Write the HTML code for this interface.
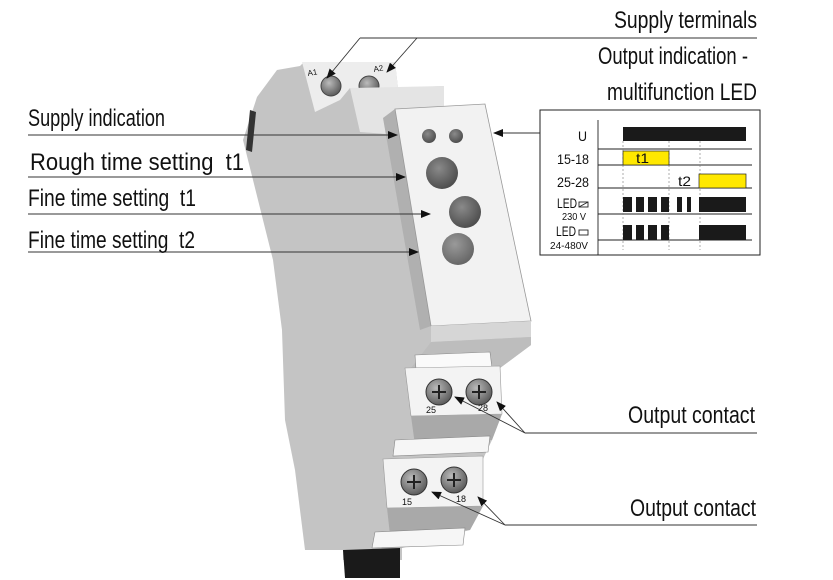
<!DOCTYPE html>
<html><head><meta charset="utf-8"><style>
html,body{margin:0;padding:0;background:#fff;width:833px;height:580px;overflow:hidden}
svg{display:block}
text{font-family:"Liberation Sans",sans-serif;fill:#111;white-space:pre}
</style></head><body>
<svg width="833" height="580" viewBox="0 0 833 580" xmlns="http://www.w3.org/2000/svg" xml:space="preserve">
<defs>
<marker id="ah" markerWidth="10" markerHeight="8" refX="9" refY="4" orient="auto" markerUnits="userSpaceOnUse">
<path d="M0,0 L10,4 L0,8 z" fill="#111"/></marker>
<radialGradient id="knob" cx="40%" cy="35%" r="70%"><stop offset="0" stop-color="#8a8a8a"/><stop offset="1" stop-color="#4a4a4a"/></radialGradient>
<radialGradient id="scr" cx="40%" cy="35%" r="70%"><stop offset="0" stop-color="#bbb"/><stop offset="1" stop-color="#555"/></radialGradient>
</defs>

<path d="M277,70 L300,66 L304,62 L395,62 L398,88 L444,86 L444,110 L395,109 L431,326 L531,337 L531,345 L500,368 L502,414 L492,440 L483,459 L483,506 L470,530 L402,548 L402,560 L343,560 L343,550 L305,550 L295,470 L285,420 L282,330 L273,260 L243,140 L257,97 Z" fill="#c4c4c4"/>
<path d="M250,110 L246,150 L252,152 L256,112 Z" fill="#333"/>
<path d="M302,62 L395,62 L398,88 L350,88 L340,100 L315,112 Z" fill="#ededed"/>
<circle cx="331" cy="86" r="10" fill="url(#scr)" stroke="#444"/>
<circle cx="369" cy="86" r="10" fill="url(#scr)" stroke="#444"/>
<text x="308" y="76" font-size="8" transform="rotate(-10 308 76)">A1</text>
<text x="374" y="72" font-size="8" transform="rotate(-10 374 72)">A2</text>
<path d="M350,88 L444,86 L444,110 L395,109 L400,135 L360,132 Z" fill="#e4e4e4"/>
<path d="M383,118 L395,109 L431,326 L420,330 Z" fill="#b0b0b0"/>
<path d="M395,109 L485,104 L531,321 L431,326 Z" fill="#f2f2f2" stroke="#999" stroke-width="0.8"/>
<path d="M431,326 L531,321 L531,337 L431,342 Z" fill="#d6d6d6"/>
<path d="M431,342 L531,337 L531,345 L500,368 L411,368 Z" fill="#bdbdbd"/>
<circle cx="429" cy="136" r="7" fill="url(#knob)"/>
<circle cx="456" cy="136" r="7" fill="url(#knob)"/>
<circle cx="442" cy="173" r="16" fill="url(#knob)"/>
<circle cx="465" cy="212" r="16" fill="url(#knob)"/>
<circle cx="458" cy="249" r="16" fill="url(#knob)" opacity="0.85"/>
<path d="M415,355 L490,352 L492,368 L416,370 Z" fill="#fafafa" stroke="#888" stroke-width="0.6"/>
<path d="M405,368 L500,366 L502,414 L411,416 Z" fill="#f3f3f3" stroke="#999" stroke-width="0.6"/>
<circle cx="439" cy="392" r="13" fill="url(#scr)" stroke="#333"/>
<circle cx="479" cy="392" r="13" fill="url(#scr)" stroke="#333"/>
<path d="M432,392h14M439,385v14M472,392h14M479,385v14" stroke="#222" stroke-width="2"/>
<text x="426" y="413" font-size="9">25</text>
<text x="478" y="411" font-size="9">28</text>
<path d="M411,416 L502,414 L492,440 L415,445 Z" fill="#a9a9a9"/>
<path d="M395,440 L490,436 L488,452 L393,456 Z" fill="#f6f6f6" stroke="#888" stroke-width="0.6"/>
<path d="M383,459 L483,456 L483,506 L387,508 Z" fill="#f3f3f3" stroke="#999" stroke-width="0.6"/>
<circle cx="414" cy="482" r="13" fill="url(#scr)" stroke="#333"/>
<circle cx="454" cy="480" r="13" fill="url(#scr)" stroke="#333"/>
<path d="M407,482h14M414,475v14M447,480h14M454,473v14" stroke="#222" stroke-width="2"/>
<text x="402" y="505" font-size="9">15</text>
<text x="456" y="502" font-size="9">18</text>
<path d="M387,508 L483,506 L470,530 L390,535 Z" fill="#a9a9a9"/>
<path d="M375,532 L465,528 L463,545 L372,548 Z" fill="#f6f6f6" stroke="#888" stroke-width="0.6"/>
<path d="M343,550 L400,548 L400,578 L345,578 Z" fill="#1a1a1a"/>

<g stroke="#333" stroke-width="0.9" fill="none">
<path d="M360,38 H757"/>
<path d="M360,38 L327,78" marker-end="url(#ah)"/>
<path d="M417,38 L387,72" marker-end="url(#ah)"/>
<path d="M28,135 H397" marker-end="url(#ah)"/>
<path d="M28,177 H405" marker-end="url(#ah)"/>
<path d="M28,214 H430" marker-end="url(#ah)"/>
<path d="M28,252 H418" marker-end="url(#ah)"/>
<path d="M540,133 H494" marker-end="url(#ah)"/>
<path d="M525,433 H757"/>
<path d="M525,433 L497,402" marker-end="url(#ah)"/>
<path d="M525,433 L455,397" marker-end="url(#ah)"/>
<path d="M505,525 H757"/>
<path d="M505,525 L478,497" marker-end="url(#ah)"/>
<path d="M505,525 L432,492" marker-end="url(#ah)"/>
</g>

<g font-size="24">
<text x="614" y="28" textLength="143" lengthAdjust="spacingAndGlyphs">Supply terminals</text>
<text x="598" y="64" textLength="150" lengthAdjust="spacingAndGlyphs">Output indication -</text>
<text x="607" y="100" textLength="150" lengthAdjust="spacingAndGlyphs">multifunction LED</text>
<text x="28" y="126" textLength="137" lengthAdjust="spacingAndGlyphs">Supply indication</text>
<text x="30" y="170" textLength="214" lengthAdjust="spacingAndGlyphs">Rough time setting&#160;&#160;t1</text>
<text x="28" y="206" textLength="168" lengthAdjust="spacingAndGlyphs">Fine time setting&#160;&#160;t1</text>
<text x="28" y="248" textLength="167" lengthAdjust="spacingAndGlyphs">Fine time setting&#160;&#160;t2</text>
<text x="628" y="423" textLength="127" lengthAdjust="spacingAndGlyphs">Output contact</text>
<text x="630" y="516" textLength="126" lengthAdjust="spacingAndGlyphs">Output contact</text>
</g>

<rect x="540" y="110" width="220" height="145" fill="#fff" stroke="#222" stroke-width="1"/>
<g stroke="#222" stroke-width="0.9">
<path d="M598,120 V255"/>
<path d="M598,149 H752 M598,165 H752 M598,188 H752 M598,214 H752 M598,240 H752"/>
</g>
<g stroke="#777" stroke-width="0.6" stroke-dasharray="2,2">
<path d="M623,141 V250 M669,141 V250 M700,141 V250"/>
</g>
<rect x="623" y="127" width="123" height="14" fill="#1a1a1a"/>
<rect x="623" y="151" width="46" height="14" fill="#ffe800" stroke="#222" stroke-width="0.7"/>
<rect x="699" y="174" width="47" height="14" fill="#ffe800" stroke="#222" stroke-width="0.7"/>
<g fill="#1a1a1a">
<rect x="623" y="197" width="9" height="15"/><rect x="636" y="197" width="8" height="15"/><rect x="648" y="197" width="9" height="15"/><rect x="661" y="197" width="8" height="15"/>
<rect x="677" y="197" width="5" height="15"/><rect x="687" y="197" width="4" height="15"/><rect x="699" y="197" width="47" height="15"/>
<rect x="623" y="225" width="9" height="15"/><rect x="636" y="225" width="8" height="15"/><rect x="648" y="225" width="9" height="15"/><rect x="661" y="225" width="8" height="15"/>
<rect x="699" y="225" width="47" height="15"/>
</g>
<g font-size="14">
<text x="578" y="141" textLength="9" lengthAdjust="spacingAndGlyphs">U</text>
<text x="557" y="164" textLength="32" lengthAdjust="spacingAndGlyphs">15-18</text>
<text x="557" y="187" textLength="32" lengthAdjust="spacingAndGlyphs">25-28</text>
<text x="636" y="163" textLength="13" lengthAdjust="spacingAndGlyphs">t1</text>
<text x="678" y="186" textLength="13" lengthAdjust="spacingAndGlyphs">t2</text>
<text x="557" y="208" textLength="20" lengthAdjust="spacingAndGlyphs">LED</text>
<text x="556" y="236" textLength="20" lengthAdjust="spacingAndGlyphs">LED</text>
</g>
<g font-size="10">
<text x="562" y="220" textLength="24" lengthAdjust="spacingAndGlyphs">230 V</text>
<text x="550" y="249" textLength="38" lengthAdjust="spacingAndGlyphs">24-480V</text>
</g>
<g stroke="#222" stroke-width="0.9" fill="none">
<rect x="579" y="202" width="9" height="5"/><path d="M579,207 L588,202"/>
<rect x="579" y="230" width="9" height="5"/>
</g>
</svg>
</body></html>
